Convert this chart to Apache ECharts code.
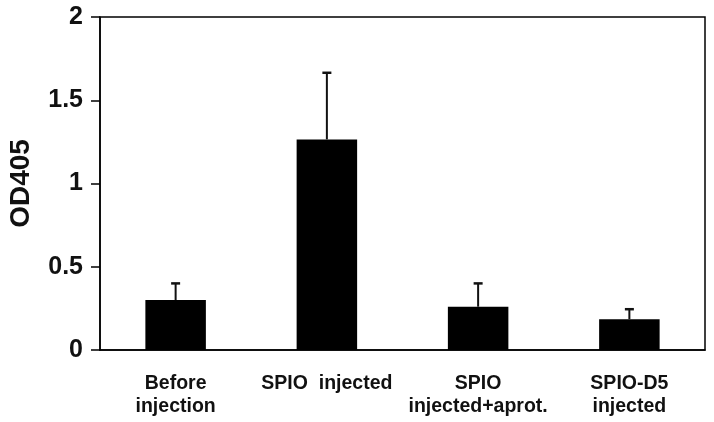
<!DOCTYPE html>
<html><head><meta charset="utf-8">
<script src="https://cdn.jsdelivr.net/npm/echarts@6/dist/echarts.min.js"></script>
<style>html,body{margin:0;padding:0;background:#fff}#c{width:714px;height:422px}</style>
</head><body><div id="c"></div>
<script>
const categories = ['Before\ninjection', 'SPIO  injected', 'SPIO\ninjected+aprot.', 'SPIO-D5\ninjected'];
const means = [0.30, 1.265, 0.26, 0.185];
const errUpper = [0.40, 1.665, 0.40, 0.245];
const yTicks = [0, 0.5, 1, 1.5, 2];

const chart = echarts.init(document.getElementById('c'), null, {renderer: 'canvas'});
const font = 'Liberation Sans, Arial, sans-serif';
chart.setOption({
  animation: false,
  grid: {left: 100, right: 9, top: 17, bottom: 72, containLabel: false, outerBoundsMode: 'none',
    show: true, borderColor: '#000', borderWidth: 1.5, backgroundColor: 'transparent'},
  xAxis: {
    type: 'category', data: categories,
    axisLine: {lineStyle: {color: '#000', width: 1.5}},
    axisTick: {show: false},
    axisLabel: {color: '#111', fontFamily: font, fontWeight: 'bold', fontSize: 19.5, lineHeight: 23, margin: 22, interval: 0}
  },
  yAxis: {
    type: 'value', min: 0, max: 2, interval: 0.5,
    name: 'OD405', nameLocation: 'middle', nameGap: 65, nameRotate: 90,
    nameTextStyle: {color: '#111', fontFamily: font, fontWeight: 'bold', fontSize: 28},
    axisLine: {show: true, lineStyle: {color: '#000', width: 1.5}},
    axisTick: {show: true, inside: false, length: 9, lineStyle: {color: '#000', width: 1.5}},
    splitLine: {show: false},
    axisLabel: {color: '#111', fontFamily: font, fontWeight: 'bold', fontSize: 25, margin: 17,
      formatter: v => yTicks.includes(v) ? String(v) : ''}
  },
  series: [
    {type: 'bar', data: means, barWidth: '40%', itemStyle: {color: '#000'}, z: 2},
    {type: 'custom', z: 3,
      data: errUpper.map((e, i) => [i, means[i], e]),
      renderItem: function (params, api) {
        const x = api.value(0);
        const lo = api.coord([x, api.value(1)]);
        const hi = api.coord([x, api.value(2)]);
        const cap = 4.5;
        return {type: 'group', children: [
          {type: 'line', shape: {x1: lo[0], y1: lo[1], x2: hi[0], y2: hi[1]}, style: {stroke: '#111', lineWidth: 2}},
          {type: 'line', shape: {x1: hi[0] - cap, y1: hi[1], x2: hi[0] + cap, y2: hi[1]}, style: {stroke: '#111', lineWidth: 2.5}}
        ]};
      }
    }
  ]
});
</script></body></html>
